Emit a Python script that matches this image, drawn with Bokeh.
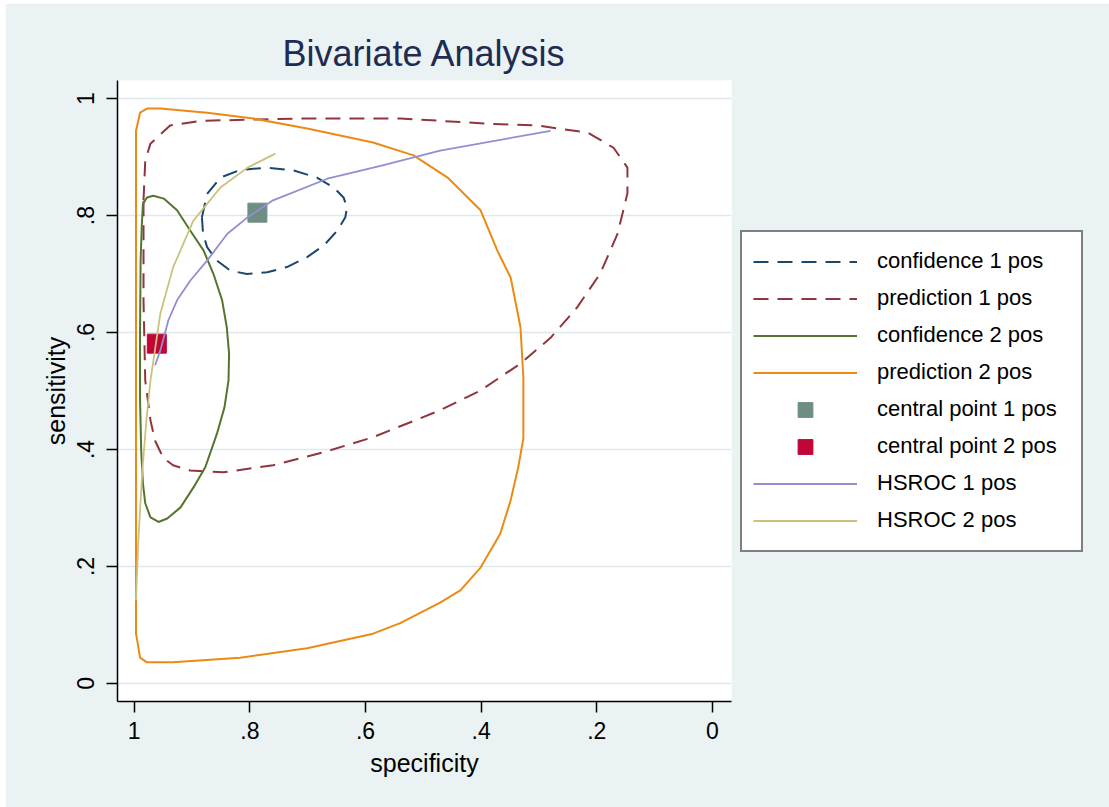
from bokeh.plotting import figure
from bokeh.models import Range1d, Legend, LegendItem, FixedTicker
from bokeh.embed import file_html
from bokeh.resources import INLINE

# ---------------- data ----------------
tick_values = [0, 0.2, 0.4, 0.6, 0.8, 1]
tick_labels = ["0", ".2", ".4", ".6", ".8", "1"]

conf1_spec = [0.883, 0.874, 0.851, 0.817, 0.770, 0.724, 0.684, 0.655, 0.638, 0.632, 0.635,
              0.649, 0.672, 0.701, 0.736, 0.770, 0.805, 0.834, 0.857, 0.874, 0.881, 0.883]
conf1_sens = [0.797, 0.837, 0.865, 0.878, 0.882, 0.877, 0.865, 0.848, 0.831, 0.814, 0.797,
              0.774, 0.749, 0.729, 0.712, 0.703, 0.700, 0.706, 0.723, 0.746, 0.769, 0.797]

pred1_spec = [0.984, 0.981, 0.972, 0.938, 0.886, 0.713, 0.540, 0.384, 0.303, 0.216, 0.171,
              0.147, 0.147, 0.164, 0.194, 0.234, 0.280, 0.332, 0.401, 0.471, 0.587, 0.673,
              0.760, 0.846, 0.903, 0.933, 0.950, 0.964, 0.972, 0.981, 0.984, 0.984]
pred1_sens = [0.826, 0.894, 0.923, 0.954, 0.962, 0.966, 0.966, 0.957, 0.954, 0.942, 0.916,
              0.882, 0.838, 0.769, 0.701, 0.643, 0.591, 0.547, 0.501, 0.467, 0.421, 0.395,
              0.373, 0.361, 0.364, 0.373, 0.386, 0.415, 0.450, 0.518, 0.655, 0.826]

conf2_spec = [0.985, 0.978, 0.967, 0.949, 0.926, 0.903, 0.880, 0.863, 0.848, 0.840, 0.836,
              0.837, 0.844, 0.857, 0.877, 0.897, 0.920, 0.943, 0.958, 0.972, 0.981, 0.985,
              0.988, 0.990, 0.990, 0.989, 0.987, 0.985]
conf2_sens = [0.820, 0.831, 0.834, 0.829, 0.809, 0.774, 0.740, 0.700, 0.655, 0.609, 0.564,
              0.518, 0.472, 0.427, 0.370, 0.336, 0.301, 0.282, 0.276, 0.284, 0.308, 0.342,
              0.398, 0.484, 0.603, 0.723, 0.783, 0.820]

pred2_spec = [0.997, 0.997, 0.997, 0.997, 0.990, 0.978, 0.955, 0.874, 0.794, 0.701, 0.587,
              0.517, 0.458, 0.401, 0.372, 0.349, 0.332, 0.327, 0.327, 0.336, 0.349, 0.367,
              0.401, 0.436, 0.471, 0.540, 0.587, 0.701, 0.817, 0.933, 0.978, 0.990, 0.995,
              0.997]
pred2_sens = [0.085, 0.313, 0.655, 0.945, 0.976, 0.983, 0.983, 0.976, 0.966, 0.949, 0.925,
              0.903, 0.865, 0.809, 0.740, 0.694, 0.609, 0.523, 0.419, 0.369, 0.313, 0.256,
              0.198, 0.159, 0.138, 0.103, 0.085, 0.060, 0.044, 0.036, 0.036, 0.044, 0.074,
              0.085]

center1_spec = [0.787]
center1_sens = [0.805]
center2_spec = [0.961]
center2_sens = [0.581]

hsroc1_spec = [0.964, 0.955, 0.941, 0.926, 0.903, 0.874, 0.839, 0.804, 0.760, 0.666, 0.574,
               0.471, 0.280]
hsroc1_sens = [0.544, 0.569, 0.621, 0.655, 0.689, 0.723, 0.769, 0.797, 0.826, 0.863, 0.885,
               0.911, 0.945]

hsroc2_spec = [0.997, 0.993, 0.986, 0.979, 0.972, 0.955, 0.933, 0.898, 0.851, 0.804, 0.756]
hsroc2_sens = [0.142, 0.244, 0.364, 0.450, 0.518, 0.632, 0.711, 0.791, 0.848, 0.882, 0.906]

labels = ["confidence 1 pos", "prediction 1 pos", "confidence 2 pos", "prediction 2 pos",
          "central point 1 pos", "central point 2 pos", "HSROC 1 pos", "HSROC 2 pos"]

# ---------------- figure ----------------
FONT = "Liberation Sans"
BG = "#eaf2f3"

p = figure(frame_width=614, frame_height=621, output_backend="svg", toolbar_location=None,
           x_range=Range1d(1.029, -0.033), y_range=Range1d(-0.031, 1.031),
           min_border_left=112, min_border_right=378, min_border_top=77, min_border_bottom=106,
           background_fill_color="white", border_fill_color=BG, outline_line_color=None,
           title="Bivariate Analysis")
p.margin = (3, 0, 0, 5)

p.title.align = "center"
p.title.text_font = FONT
p.title.text_font_size = "36px"
p.title.text_font_style = "normal"
p.title.text_color = "#1e2b52"
p.title.standoff = 13

ticker = FixedTicker(ticks=tick_values)
overrides = dict(zip(tick_values, tick_labels))
for ax in (p.xaxis[0], p.yaxis[0]):
    ax.ticker = ticker
    ax.major_label_overrides = overrides
    ax.minor_tick_line_color = None
    ax.major_tick_in = 0
    ax.major_tick_out = 11
    ax.major_tick_line_width = 1.5
    ax.major_tick_line_color = "black"
    ax.axis_line_color = "black"
    ax.axis_line_width = 1.5
    ax.major_label_text_font = FONT
    ax.major_label_text_font_size = "23px"
    ax.major_label_text_color = "black"
    ax.axis_label_text_font = FONT
    ax.axis_label_text_font_size = "25px"
    ax.axis_label_text_font_style = "normal"
    ax.axis_label_text_color = "black"

p.xaxis.axis_label = "specificity"
p.yaxis.axis_label = "sensitivity"
p.yaxis.major_label_orientation = "vertical"
p.xaxis.major_label_standoff = 9
p.yaxis.major_label_standoff = 12
p.xaxis.axis_label_standoff = 7
p.yaxis.axis_label_standoff = 5

p.xgrid.visible = False
p.ygrid.ticker = ticker
p.ygrid.grid_line_color = "#dfe9ed"
p.ygrid.grid_line_width = 1.5

# ---------------- glyphs ----------------
r1 = p.line(conf1_spec, conf1_sens, line_color="#1a476f", line_width=2, line_dash="15 9")
r2 = p.line(pred1_spec, pred1_sens, line_color="#90353b", line_width=2, line_dash="15 9")
r3 = p.line(conf2_spec, conf2_sens, line_color="#55752f", line_width=2)
r4 = p.line(pred2_spec, pred2_sens, line_color="#ec8a14", line_width=2)
r5 = p.scatter(center1_spec, center1_sens, marker="square", size=19,
               fill_color="#6e8e84", line_color="#6e8e84")
r6 = p.scatter(center2_spec, center2_sens, marker="square", size=19,
               fill_color="#c10534", line_color="#c10534")
r7 = p.line(hsroc1_spec, hsroc1_sens, line_color="#938dd2", line_width=1.8)
r8 = p.line(hsroc2_spec, hsroc2_sens, line_color="#cac27e", line_width=1.8)

renderers = [r1, r2, r3, r4, r5, r6, r7, r8]
legend = Legend(items=[LegendItem(label=l, renderers=[r]) for l, r in zip(labels, renderers)])
legend.location = "center_left"
legend.margin = 9
legend.padding = 11
legend.glyph_width = 104
legend.glyph_height = 37
legend.label_height = 22
legend.spacing = 0
legend.label_standoff = 20
legend.label_width = 193
legend.label_text_font = FONT
legend.label_text_font_size = "22px"
legend.label_text_color = "black"
legend.border_line_color = "black"
legend.border_line_width = 2
legend.background_fill_color = "white"
legend.background_fill_alpha = 1.0
p.add_layout(legend, "right")

open("out.html", "w").write(file_html(p, INLINE))
